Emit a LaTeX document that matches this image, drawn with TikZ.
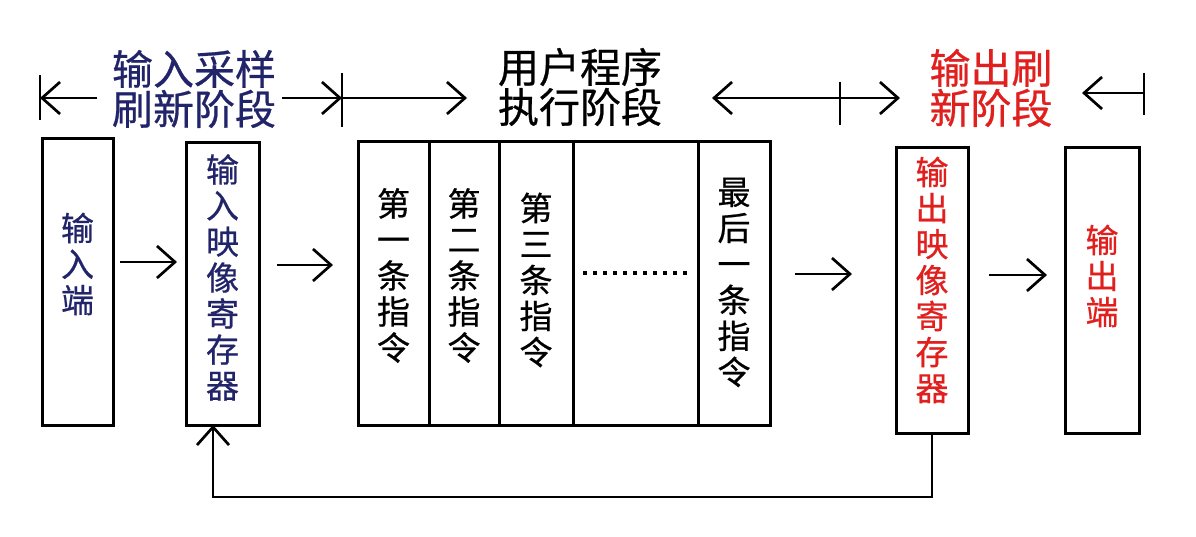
\documentclass[tikz,border=0pt]{standalone}
\usepackage{fontspec}
\usepackage{xcolor}
\usepackage{tikz}
\usetikzlibrary{arrows.meta, positioning, calc}
\newfontfamily\cjk{Noto Sans CJK SC}[FakeBold=0.6]
\definecolor{innavy}{HTML}{22246A}
\definecolor{outred}{HTML}{E0201E}

\begin{document}
\begin{tikzpicture}[
    x=1pt, y=1pt,
    box/.style={rectangle, draw=black, line width=3pt, fill=white,
                minimum width=72pt, minimum height=285pt,
                inner sep=0pt, outer sep=0pt},
    col/.style={rectangle, draw=black, line width=3pt,
                minimum height=283pt, inner sep=0pt, outer sep=0pt},
    vlbl/.style={font=\cjk\fontsize{33}{36}\selectfont, align=center, inner sep=0pt},
    stagelbl/.style={font=\cjk\fontsize{41}{40}\selectfont, align=center, inner sep=0pt},
    arr/.style={-{Straight Barb[length=18pt, width=32pt]}, line width=2.7pt, black},
    tick/.style={line width=2.7pt, black},
  ]
    \useasboundingbox[fill=white] (0,0) rectangle (1196,-537);

    % ── Stage labels ─────────────────────────────
    \node[stagelbl, text=innavy] (stagein) at (194,-89) {输入采样\\刷新阶段};
    \node[stagelbl] (stagerun) at (580,-87) {用户程序\\执行阶段};
    \node[stagelbl, text=outred] (stageout) at (991,-88) {输出刷\\新阶段};

    % ── Stage marks ──────────────────────────────
    \coordinate (t0) at (40,-98);
    \coordinate (t1) at (342,-98);
    \coordinate (t2) at (840,-98);
    \coordinate (t3) at (1144,-93);
    \draw[tick] ([yshift=23pt]t0) -- ([yshift=-22pt]t0);
    \draw[tick] ([yshift=25pt]t1) -- ([yshift=-29pt]t1);
    \draw[tick] ([yshift=16pt]t2) -- ([yshift=-27pt]t2);
    \draw[tick] ([yshift=20pt]t3) -- ([yshift=-22pt]t3);
    \draw[arr] ([xshift=57pt]t0) -- (t0);
    \draw[arr] ([xshift=-60pt]t1) -- (t1);
    \draw[arr] (t1) -- ([xshift=125pt]t1);
    \draw[arr] (t2) -- ([xshift=-128pt]t2);
    \draw[arr] (t2) -- ([xshift=60pt]t2);
    \draw[arr] (t3) -- ([xshift=-62pt]t3);

    % ── Input side ───────────────────────────────
    \node[box, minimum width=71pt, minimum height=286pt] (inport) at (77.5,-282) {};
    \node[box, minimum width=73pt, minimum height=282pt] (inreg) at (222.5,-284) {};
    \node[vlbl, text=innavy] (inporttxt) at ([yshift=18pt]inport.center) {输\\入\\端};
    \node[vlbl, text=innavy] (inregtxt) at ([yshift=6.5pt]inreg.center) {输\\入\\映\\像\\寄\\存\\器};

    % ── User program ─────────────────────────────
    \node[col, minimum width=71pt, anchor=north west] (ins1) at (358,-142) {};
    \node[col, minimum width=70pt, right=0pt of ins1] (ins2) {};
    \node[col, minimum width=74pt, right=0pt of ins2] (ins3) {};
    \node[col, minimum width=125pt, right=0pt of ins3] (insdots) {};
    \node[col, minimum width=72pt, right=0pt of insdots] (inslast) {};
    \node[vlbl] (ins1txt) at ([yshift=8pt]ins1.center) {第\\一\\条\\指\\令};
    \node[vlbl] (ins2txt) at ([yshift=8pt]ins2.center) {第\\二\\条\\指\\令};
    \node[vlbl] (ins3txt) at ([yshift=3.5pt]ins3.center) {第\\三\\条\\指\\令};
    \node[vlbl] (inslasttxt) at ([yshift=1pt]inslast.center) {最\\后\\一\\条\\指\\令};
    \draw[line width=4pt, dash pattern=on 4pt off 6pt]
      ([xshift=-52.5pt, yshift=10.5pt]insdots.center) -- ([xshift=52pt, yshift=10.5pt]insdots.center);

    % ── Output side ──────────────────────────────
    \node[box] (outreg) at (932,-290.5) {};
    \node[box, minimum width=74pt] (outport) at (1102,-290.5) {};
    \node[vlbl, text=outred] (outregtxt) at ([yshift=10.5pt]outreg.center) {输\\出\\映\\像\\寄\\存\\器};
    \node[vlbl, text=outred] (outporttxt) at ([yshift=14.5pt]outport.center) {输\\出\\端};

    % ── Data flow ────────────────────────────────
    \draw[arr, shorten <=7pt, shorten >=9pt]
      ([yshift=20pt]inport.east) -- ([yshift=20pt]inport.east -| inreg.west);
    \draw[arr, shorten <=18pt, shorten >=25pt]
      ([yshift=19pt]inreg.east) -- ([yshift=19pt]inreg.east -| ins1.west);
    \draw[arr, shorten <=25pt, shorten >=44pt]
      ([yshift=9.5pt]inslast.east) -- ([yshift=9.5pt]inslast.east -| outreg.west);
    \draw[arr, shorten <=21pt, shorten >=18pt]
      ([yshift=15.5pt]outreg.east) -- ([yshift=15.5pt]outreg.east -| outport.west);

    % ── Feedback ─────────────────────────────────
    \draw[arr] (outreg.south) -- ++(0,-64) -| ([xshift=-9.5pt]inreg.south);
\end{tikzpicture}
\end{document}
